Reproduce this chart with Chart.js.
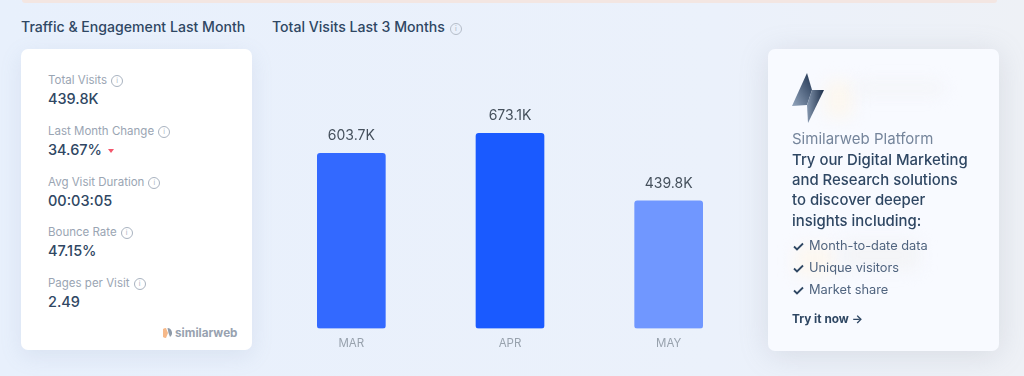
<!DOCTYPE html>
<html lang="en">
<head>
<meta charset="UTF-8">
<title>Total Visits Last 3 Months</title>
<script src="https://cdn.jsdelivr.net/npm/chart.js"></script>
<style>
  html, body { margin: 0; padding: 0; }
  body {
    position: relative; width: 1024px; height: 376px; overflow: hidden;
    font-family: Inter, "Noto Sans", sans-serif; color: #2f4763;
    background: linear-gradient(90deg, #e8f0fc 0%, #ebf1fb 70%, #eef1f6 100%);
  }
  .abs { position: absolute; white-space: nowrap; }
  .strip { position: absolute; left: 22px; top: 0; width: 975px; height: 3px; background: #f3e6e2; border-radius: 0 0 4px 4px; }
  .head { font-size: 14.1px; line-height: 18px; font-weight: 500; color: #2f4763; }
  .card { position: absolute; top: 49px; width: 231px; background: #fff; border-radius: 7px; box-shadow: 0 6px 22px rgba(120,140,180,.14); }
  .lbl { font-size: 11.5px; line-height: 14px; color: #9aa5b3; }
  .val { font-size: 14.5px; line-height: 18px; font-weight: 500; color: #2f4763; }
  .info {
    display: inline-block; width: 10px; height: 10px; border: 1px solid #a9b3c0; border-radius: 50%;
    font-size: 7px; line-height: 10px; text-align: center; color: #a9b3c0; margin-left: 4px; vertical-align: 1px;
  }
  .promo { font-size: 14.9px; line-height: 20px; font-weight: 500; color: #2f4763; }
  .item { font-size: 12.8px; line-height: 16px; color: #50647f; }
  .blur { position: absolute; border-radius: 8px; filter: blur(8px); }
  canvas { position: absolute; left: 272px; top: 50px; }
</style>
</head>
<body>
<div class="strip"></div>
<div class="abs head" style="left:21px;top:18px">Traffic &amp; Engagement Last Month</div>
<div class="abs head" style="left:272px;top:18px">Total Visits Last 3 Months<span class="info" style="margin-left:5px;border-color:#b5bdc9;color:#b5bdc9">i</span></div>

<div class="card" style="left:21px;height:301px"></div>
<div id="stats"></div>
<div class="abs" style="left:175px;top:325px;font-size:11.7px;font-weight:700;color:#98a2b0;line-height:16px">similarweb</div>
<svg class="abs" style="left:163px;top:327px" width="9" height="12" viewBox="0 0 9 12">
  <path d="M3 1 A5 5 0 0 0 3 11 L5 6 Z" fill="#f6b98a"/><path d="M4.5 1 A5 5 0 0 1 7 10 L5.5 6 Z" fill="#8f9aa8"/>
</svg>

<canvas id="visitsChart" width="476" height="310"></canvas>

<div class="card" style="left:768px;height:302px;background:#f8faff;box-shadow:0 4px 30px rgba(130,135,150,.2)"></div>
<div class="blur" style="left:825px;top:80px;width:28px;height:38px;background:#fcf7f0"></div>
<div class="blur" style="left:855px;top:82px;width:90px;height:12px;background:#f3f4f7"></div>
<div class="blur" style="left:795px;top:245px;width:40px;height:32px;background:#fcf7f0"></div>
<div class="blur" style="left:840px;top:240px;width:80px;height:30px;background:#f3f4f7"></div>
<svg class="abs" style="left:792px;top:72px" width="33" height="52" viewBox="0 0 33 52">
  <defs>
    <linearGradient id="boltUp" x1="0" y1="1" x2="1" y2="0"><stop offset="0" stop-color="#93a5bd"/><stop offset="1" stop-color="#1f3350"/></linearGradient>
    <linearGradient id="boltDown" x1="0" y1="0" x2="1" y2="0"><stop offset="0" stop-color="#8597af"/><stop offset="1" stop-color="#1c2e49"/></linearGradient>
  </defs>
  <path d="M15 1 L0 34 L15 33 L20 18 Z" fill="url(#boltUp)"/>
  <path d="M20 18 L32 18 L16 51 L15 33 Z" fill="url(#boltDown)"/>
</svg>
<div class="abs" style="left:792px;top:130px;font-size:15px;line-height:18px;color:#75859b">Similarweb Platform</div>
<div id="promo"></div>
<div id="items"></div>
<div class="abs" style="left:792px;top:311px;font-size:11.8px;line-height:16px;font-weight:700;color:#2f4763">Try it now →</div>

<script>
const months = ['MAR', 'APR', 'MAY'];
const visits = [603.7, 673.1, 439.8]; // thousands
const barColors = ['#3369ff', '#1a5aff', '#7097ff'];

const statLabels = ['Total Visits', 'Last Month Change', 'Avg Visit Duration', 'Bounce Rate', 'Pages per Visit'];
const statValues = ['439.8K', '34.67%', '00:03:05', '47.15%', '2.49'];
const promoLines = ['Try our Digital Marketing', 'and Research solutions', 'to discover deeper', 'insights including:'];
const promoItems = ['Month-to-date data', 'Unique visitors', 'Market share'];

// left card rows
const rowTops = [73, 124, 175, 225, 276];
let html = '';
statLabels.forEach((label, i) => {
  const top = rowTops[i];
  const arrow = i === 1 ? '<span style="display:inline-block;margin-left:6px;vertical-align:2px;border:3.5px solid transparent;border-top:4px solid #f4566c;border-bottom:0"></span>' : '';
  html += `<div class="abs lbl" style="left:48px;top:${top}px">${label}<span class="info">i</span></div>`;
  html += `<div class="abs val" style="left:48px;top:${top + 17}px">${statValues[i]}${arrow}</div>`;
});
document.getElementById('stats').innerHTML = html;

document.getElementById('promo').innerHTML = promoLines.map((line, i) =>
  `<div class="abs promo" style="left:792px;top:${150 + i * 20.2}px">${line}</div>`).join('');

document.getElementById('items').innerHTML = promoItems.map((item, i) => `
  <svg class="abs" style="left:793px;top:${242 + i * 22}px" width="11" height="9" viewBox="0 0 11 9"><path d="M1 4.5 L4 7.5 L10 1.5" fill="none" stroke="#2f4763" stroke-width="1.8"/></svg>
  <div class="abs item" style="left:809px;top:${238 + i * 22}px">${item}</div>`).join('');

// value above each bar
const valueLabelPlugin = {
  id: 'valueLabelPlugin',
  afterDatasetsDraw(chart) {
    const {ctx} = chart;
    const meta = chart.getDatasetMeta(0);
    ctx.save();
    ctx.font = '14px Inter, "Noto Sans", sans-serif';
    ctx.fillStyle = '#45505c';
    ctx.textAlign = 'center';
    ctx.textBaseline = 'alphabetic';
    meta.data.forEach((bar, index) => {
      ctx.fillText(visits[index].toFixed(1) + 'K', bar.x, bar.y - 13);
    });
    ctx.restore();
  }
};

new Chart(document.getElementById('visitsChart').getContext('2d'), {
  type: 'bar',
  data: {
    labels: months,
    datasets: [{
      data: visits,
      backgroundColor: barColors,
      barThickness: 68,
      borderRadius: 3,
      borderSkipped: false
    }]
  },
  options: {
    responsive: false,
    animation: false,
    plugins: {
      legend: { display: false },
      tooltip: { enabled: false }
    },
    layout: { padding: 0 },
    scales: {
      x: {
        grid: { display: false },
        border: { display: false },
        ticks: { color: '#98a2ad', font: { size: 11.5, family: 'Inter, "Noto Sans", sans-serif' }, padding: 0 },
        afterFit(scale) { scale.height = 31.5; }
      },
      y: { display: false, min: 0, max: 960 }
    }
  },
  plugins: [valueLabelPlugin]
});
</script>
</body>
</html>
